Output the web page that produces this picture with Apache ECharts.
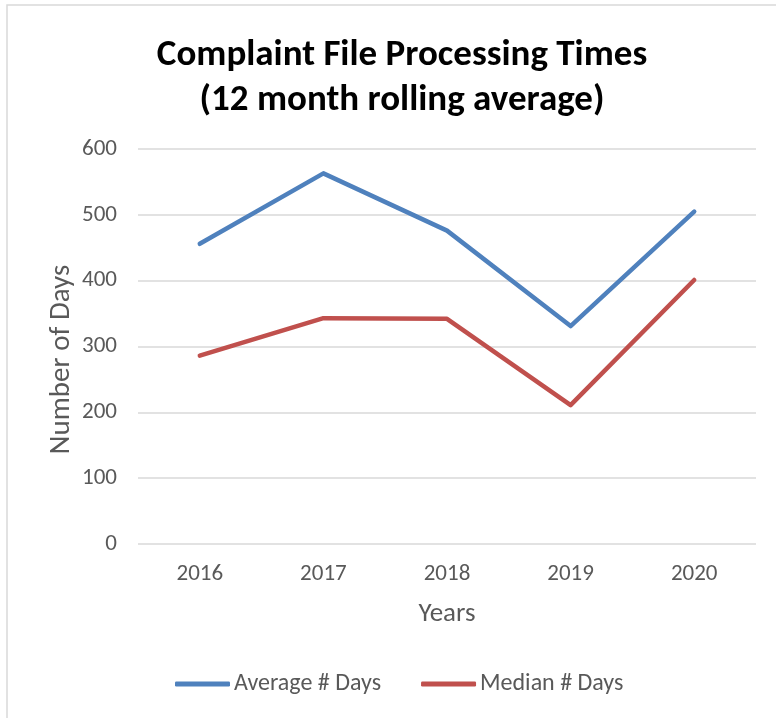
<!DOCTYPE html>
<html>
<head>
<meta charset="utf-8">
<script src="https://cdn.jsdelivr.net/npm/echarts@6/dist/echarts.min.js"></script>
<style>
html,body{margin:0;padding:0;background:#fff;}
#chart{width:776px;height:718px;}
</style>
</head>
<body>
<div id="chart"></div>
<script>
var titleText = 'Complaint File Processing Times\n(12 month rolling average)';
var years = ['2016', '2017', '2018', '2019', '2020'];
var averageDays = [456, 563, 476, 331, 505];
var medianDays = [286, 343, 342, 211, 401];
var seriesNames = ['Average # Days', 'Median # Days'];
var yAxisName = 'Number of Days';
var xAxisName = 'Years';

var FONT = 'Carlito, Lato, sans-serif';
var chart = echarts.init(document.getElementById('chart'), null, {renderer: 'canvas'});
chart.setOption({
  backgroundColor: '#fff',
  animation: false,
  title: {
    text: titleText,
    left: 402,
    textAlign: 'center',
    top: 33,
    padding: 0,
    textStyle: {fontFamily: FONT, fontWeight: 'bold', fontSize: 37, lineHeight: 45, color: '#000'}
  },
  graphic: [{
    type: 'rect', silent: true,
    shape: {x: 7, y: 5, width: 900, height: 900},
    style: {fill: 'none', stroke: '#d9d9d9', lineWidth: 1.5}
  }],
  legend: {
    top: 672,
    left: 175,
    padding: 0,
    itemWidth: 55,
    itemHeight: 5,
    itemGap: 40,
    icon: 'roundRect',
    data: [
      {name: seriesNames[0], itemStyle: {color: '#4F81BD'}},
      {name: seriesNames[1], itemStyle: {color: '#C0504D'}}
    ],
    textStyle: {fontFamily: FONT, fontSize: 24, color: '#595959', padding: [0, 0, 0, -1]}
  },
  grid: {left: 138, right: 20, top: 149, bottom: 174},
  xAxis: {
    type: 'category',
    data: years,
    boundaryGap: true,
    name: xAxisName,
    nameLocation: 'middle',
    nameGap: 57,
    nameMoveOverlap: false,
    nameTextStyle: {fontFamily: FONT, fontSize: 27, color: '#595959'},
    axisLine: {show: false},
    axisTick: {show: false},
    axisLabel: {fontFamily: FONT, fontSize: 23, color: '#595959', margin: 19}
  },
  yAxis: {
    type: 'value',
    min: 0, max: 600, interval: 100,
    name: yAxisName,
    nameLocation: 'middle',
    nameGap: 62,
    nameMoveOverlap: false,
    nameTextStyle: {fontFamily: FONT, fontSize: 29, color: '#595959', padding: [0, 26, 0, 0]},
    axisLine: {show: false},
    axisTick: {show: false},
    axisLabel: {fontFamily: FONT, fontSize: 23, color: '#595959', margin: 21},
    splitLine: {lineStyle: {color: '#d9d9d9', width: 1.5}}
  },
  series: [
    {name: seriesNames[0], type: 'line', data: averageDays, symbol: 'none',
     lineStyle: {color: '#4F81BD', width: 4.5, cap: 'round', join: 'round'}, itemStyle: {color: '#4F81BD'}},
    {name: seriesNames[1], type: 'line', data: medianDays, symbol: 'none',
     lineStyle: {color: '#C0504D', width: 4.5, cap: 'round', join: 'round'}, itemStyle: {color: '#C0504D'}}
  ]
});
</script>
</body>
</html>
